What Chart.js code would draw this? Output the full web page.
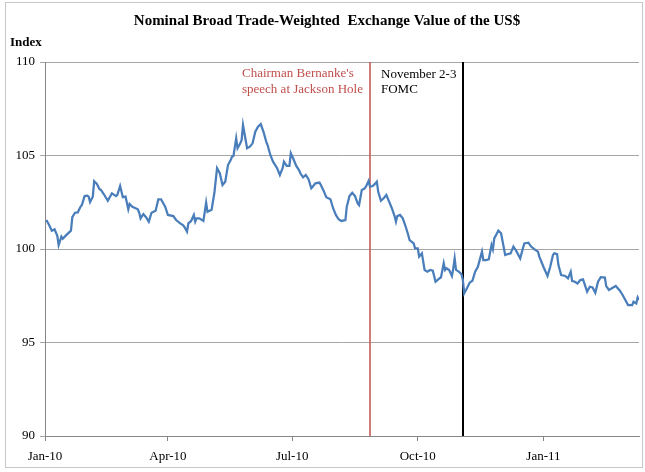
<!DOCTYPE html>
<html>
<head>
<meta charset="utf-8">
<script src="https://cdn.jsdelivr.net/npm/chart.js@4/dist/chart.umd.min.js"></script>
<style>
  html, body { margin: 0; padding: 0; background: #ffffff; }
  #wrap { width: 645px; height: 472px; }
</style>
</head>
<body>
<div id="wrap"><canvas id="c" width="645" height="472"></canvas></div>
<script>
// Days since 2010-01-01 for each observation
const dayOffsets = [
  1,3,5,7,9,10,12,13,15,19,
  20,22,24,26,27,29,31,32,33,35,
  36,38,40,41,43,46,49,52,53,55,
  57,59,61,62,64,68,69,70,72,74,
  76,78,81,83,85,88,90,94,96,99,
  101,102,104,105,107,109,110,111,113,116,
  118,119,122,124,126,128,130,132,134,136,
  137,138,140,141,143,144,145,148,150,152,
  154,156,158,160,162,163,165,167,170,172,
  174,175,177,179,180,182,184,186,187,189,
  191,193,195,196,198,201,202,204,206,209,
  211,213,215,217,220,221,223,225,227,229,
  230,232,234,235,237,238,240,242,243,244,
  246,248,250,252,254,256,257,258,260,262,
  264,266,267,270,271,273,274,276,278,280,
  282,284,286,288,290,292,293,294,296,298,
  299,300,301,303,305,306,307,309,311,313,
  315,317,320,321,323,325,327,328,329,331,
  332,334,337,339,341,343,345,348,350,351,
  354,356,359,361,362,365,368,370,372,373,
  375,376,378,381,383,385,386,388,390,392,
  394,395,397,399,401,403,405,407,410,411,
  413,416,418,421,423,425,427,430,431,433,
  434,435
];
// Nominal broad trade-weighted index values
const indexValues = [
  101.55,101.28,100.98,101.05,100.70,100.21,100.66,100.55,100.70,100.98,
  101.70,101.94,101.96,102.26,102.35,102.83,102.85,102.80,102.51,102.80,
  103.62,103.48,103.19,103.16,102.94,102.58,102.98,102.83,102.90,103.37,
  102.77,102.80,102.12,102.41,102.26,102.12,101.94,101.64,101.87,101.70,
  101.46,101.94,102.05,102.66,102.66,102.26,101.82,101.76,101.55,101.37,
  101.28,101.19,100.93,101.37,101.50,101.82,101.46,101.64,101.64,101.50,
  102.48,101.99,102.10,102.98,104.32,104.05,103.42,103.60,104.49,104.76,
  104.94,104.97,105.92,105.39,105.65,105.83,106.63,105.39,105.47,105.65,
  106.27,106.54,106.68,106.27,105.74,105.56,105.03,104.67,104.32,103.96,
  104.32,104.67,104.44,104.44,105.12,104.80,104.44,104.22,104.05,103.83,
  103.96,103.73,103.25,103.33,103.51,103.55,103.42,103.12,102.77,102.66,
  102.18,101.82,101.59,101.50,101.55,102.26,102.83,103.01,102.83,102.44,
  102.35,103.16,103.23,103.33,103.64,103.33,103.37,103.51,103.60,103.07,
  102.58,102.71,102.89,102.53,102.18,101.76,101.46,101.76,101.82,101.64,
  101.23,100.75,100.48,100.30,100.04,100.04,99.59,99.77,98.88,98.79,
  98.88,98.84,98.25,98.38,98.49,99.24,98.88,98.97,98.88,98.56,
  98.97,99.50,98.88,98.79,98.66,98.34,97.63,97.90,98.20,98.30,
  98.79,99.05,99.86,99.41,99.41,99.45,100.21,99.98,100.57,100.84,
  100.98,100.84,99.68,99.73,99.77,100.13,99.91,99.50,100.04,100.30,
  100.34,100.13,99.95,99.86,99.59,99.05,98.56,99.05,99.68,99.77,
  99.73,99.14,98.61,98.56,98.43,98.79,98.30,98.25,98.16,98.34,
  98.38,98.16,97.72,97.98,97.94,97.66,98.25,98.49,98.47,98.02,
  97.81,97.94,98.02,97.77,97.54,97.27,97.00,97.00,97.18,97.09,
  97.41,97.27
];
// X-axis tick labels and their day offsets (first of month)
const tickLabels = ["Jan-10","Apr-10","Jul-10","Oct-10","Jan-11"];
const tickDays = [0, 90, 181, 273, 365];
const yTicks = [90, 95, 100, 105, 110];
// Event markers
const eventDays = [238, 306];
const eventColors = ["#c0504d", "#000000"];
const eventLabels = [["Chairman Bernanke's", "speech at Jackson Hole"], ["November 2-3", "FOMC"]];
const titleText = "Nominal Broad Trade-Weighted  Exchange Value of the US$";
const yAxisTitle = "Index";

const n = Math.min(dayOffsets.length, indexValues.length);
const points = [];
for (let i = 0; i < n; i++) points.push({ x: dayOffsets[i], y: indexValues[i] });

const SERIF = "'Liberation Serif', 'Times New Roman', serif";

const decor = {
  id: 'decor',
  beforeDraw(chart) {
    const ctx = chart.ctx;
    ctx.save();
    ctx.fillStyle = '#ffffff';
    ctx.fillRect(0, 0, chart.width, chart.height);
    ctx.strokeStyle = '#c6c6c6';
    ctx.lineWidth = 1;
    ctx.strokeRect(5.5, 2.5, 637, 465);
    ctx.fillStyle = '#000';
    ctx.textBaseline = 'middle';
    ctx.textAlign = 'center';
    ctx.font = "bold 15px " + SERIF;
    ctx.fillText(titleText, 327, 21);
    ctx.textAlign = 'left';
    ctx.font = "bold 13px " + SERIF;
    ctx.fillText(yAxisTitle, 10, 43);
    ctx.restore();
  },
  beforeDatasetsDraw(chart) {
    const ctx = chart.ctx;
    const xs = chart.scales.x;
    const a = chart.chartArea;
    ctx.save();
    eventDays.forEach((d, i) => {
      const px = Math.round(xs.getPixelForValue(d));
      ctx.strokeStyle = eventColors[i];
      ctx.lineWidth = i === 0 ? 1.5 : 2;
      ctx.beginPath();
      ctx.moveTo(px, a.top);
      ctx.lineTo(px, a.bottom);
      ctx.stroke();
    });
    ctx.font = "13px " + SERIF;
    ctx.textBaseline = 'middle';
    ctx.textAlign = 'left';
    const redX = xs.getPixelForValue(eventDays[0]);
    ctx.fillStyle = eventColors[0];
    ctx.fillText(eventLabels[0][0], redX - 128, 74);
    ctx.fillText(eventLabels[0][1], redX - 128, 89.5);
    ctx.fillStyle = eventColors[1];
    ctx.fillText(eventLabels[1][0], redX + 11, 74.5);
    ctx.fillText(eventLabels[1][1], redX + 11, 90);
    ctx.restore();
  }
};

new Chart(document.getElementById('c'), {
  type: 'line',
  data: {
    datasets: [{
      data: points,
      borderColor: '#4a7ebb',
      borderWidth: 2.25,
      pointRadius: 0,
      tension: 0,
      fill: false
    }]
  },
  options: {
    responsive: false,
    animation: false,
    layout: { padding: { left: 0, right: 6, top: 62, bottom: 0 } },
    plugins: { legend: { display: false }, tooltip: { enabled: false }, title: { display: false } },
    scales: {
      x: {
        type: 'linear',
        min: 0,
        max: 435,
        afterBuildTicks(scale) { scale.ticks = tickDays.map(v => ({ value: v })); },
        afterFit(scale) { scale.height = 36; },
        ticks: {
          autoSkip: false,
          maxRotation: 0,
          padding: 8,
          color: '#000',
          font: { family: SERIF, size: 13 },
          callback(v) { const i = tickDays.indexOf(v); return i >= 0 ? tickLabels[i] : ''; }
        },
        grid: { display: true, drawOnChartArea: false, drawTicks: true, tickLength: 5, color: '#868686' },
        border: { color: '#868686', width: 1 }
      },
      y: {
        min: 90,
        max: 110,
        afterBuildTicks(scale) { scale.ticks = yTicks.map(v => ({ value: v })); },
        afterFit(scale) { scale.width = 45; },
        ticks: {
          padding: 5,
          color: '#000',
          font: { family: SERIF, size: 13 }
        },
        grid: { color: '#a6a6a6', tickLength: 5, drawTicks: true },
        border: { color: '#868686', width: 1 }
      }
    }
  },
  plugins: [decor]
});
</script>
</body>
</html>
